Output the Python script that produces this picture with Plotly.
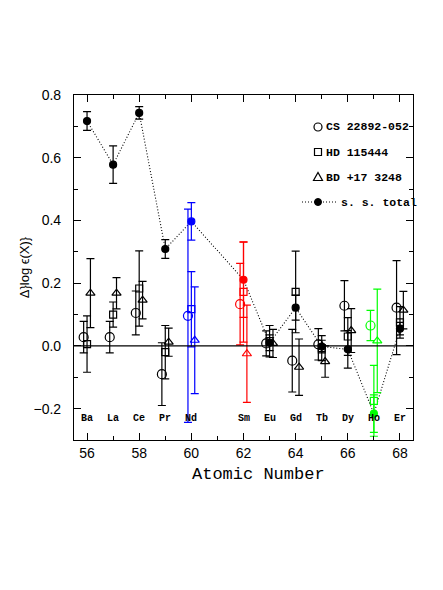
import plotly.graph_objects as go

# ---- data ----
Z = [56, 57, 58, 59, 60, 62, 63, 64, 65, 66, 67, 68]
elements = ["Ba", "La", "Ce", "Pr", "Nd", "Sm", "Eu", "Gd", "Tb", "Dy", "Ho", "Er"]
elem_colors = ["black", "black", "black", "black", "#0000ff", "#ff0000",
               "black", "black", "black", "black", "#00ff00", "black"]

cs_vals = [0.028, 0.028, 0.105, -0.090, 0.096, 0.133, 0.008, -0.047, 0.005, 0.128, 0.065, 0.122]
cs_err = [0.050, 0.050, 0.070, 0.100, 0.340, 0.130, 0.040, 0.100, 0.050, 0.080, 0.048, 0.150]
hd_vals = [0.006, 0.100, 0.183, -0.020, 0.117, 0.172, 0.015, 0.172, -0.007, 0.030, -0.175, 0.075]
hd_err = [0.090, 0.040, 0.120, 0.085, 0.120, 0.160, 0.050, 0.130, 0.040, 0.060, 0.113, 0.050]
bd_vals = [0.168, 0.168, 0.146, 0.012, 0.018, -0.025, 0.008, -0.068, -0.050, 0.049, 0.016, 0.114]
bd_err = [0.110, 0.050, 0.060, 0.045, 0.170, 0.155, 0.045, 0.090, 0.050, 0.070, 0.165, 0.060]
tot_vals = [0.717, 0.578, 0.743, 0.309, 0.397, 0.211, 0.010, 0.122, -0.002, -0.011, -0.216, 0.055]
tot_err = [0.030, 0.060, 0.020, 0.030, 0.060, 0.120, 0.025, 0.040, 0.020, 0.060, 0.060, 0.020]

x_ticks = [56, 58, 60, 62, 64, 66, 68]
legend_labels = ["CS 22892-052", "HD 115444", "BD +17 3248", "s. s. total"]

MONO = "Liberation Mono, Courier New, monospace"
SANS = "Liberation Sans, Arial, sans-serif"

fig = go.Figure()


def add_series(vals, errs, offset, symbol, size):
    for col in dict.fromkeys(elem_colors):
        idx = [i for i, c in enumerate(elem_colors) if c == col]
        fig.add_trace(go.Scatter(
            x=[Z[i] + offset for i in idx],
            y=[vals[i] for i in idx],
            mode="markers",
            marker=dict(symbol=symbol, size=size, color=col,
                        line=dict(color=col, width=1.2)),
            error_y=dict(type="data", array=[errs[i] for i in idx],
                         color=col, thickness=1.2, width=4),
            showlegend=False, hoverinfo="skip"))


# dotted line connecting totals
fig.add_trace(go.Scatter(x=Z, y=tot_vals, mode="lines",
                         line=dict(color="black", width=1.1, dash="1px,2px"),
                         showlegend=False, hoverinfo="skip"))

add_series(cs_vals, cs_err, -0.13, "circle-open", 9)
add_series(hd_vals, hd_err, 0.0, "square-open", 7)
add_series(bd_vals, bd_err, 0.13, "triangle-up-open", 8)
add_series(tot_vals, tot_err, 0.0, "circle", 7)

shapes = [dict(type="line", xref="paper", yref="y", x0=0, x1=1, y0=0, y1=0,
               line=dict(color="black", width=1.2))]

# custom legend (paper coords); page has an 8px body offset
OFF = 8
L, T, W, H = 74, 95, 339, 345


def px(xp):
    return (xp - L) / W


def py(yp):
    return (T + H - yp) / H


rows = [127, 152, 177, 202]
mx = 318
r = 4
shapes.append(dict(type="circle", xref="paper", yref="paper",
                   x0=px(mx - r), x1=px(mx + r), y0=py(rows[0] + r), y1=py(rows[0] - r),
                   line=dict(color="black", width=1.2)))
shapes.append(dict(type="rect", xref="paper", yref="paper",
                   x0=px(mx - 3.5), x1=px(mx + 3.5), y0=py(rows[1] + 3.5), y1=py(rows[1] - 3.5),
                   line=dict(color="black", width=1.2)))
shapes.append(dict(type="path", xref="paper", yref="paper",
                   path=f"M {px(mx-4.5)},{py(rows[2]+3.5)} L {px(mx+4.5)},{py(rows[2]+3.5)} "
                        f"L {px(mx)},{py(rows[2]-4.5)} Z",
                   line=dict(color="black", width=1.2)))
shapes.append(dict(type="line", xref="paper", yref="paper",
                   x0=px(302), x1=px(336), y0=py(rows[3]), y1=py(rows[3]),
                   line=dict(color="black", width=1.1, dash="1px,2px")))
shapes.append(dict(type="circle", xref="paper", yref="paper",
                   x0=px(mx - 3.5), x1=px(mx + 3.5), y0=py(rows[3] + 3.5), y1=py(rows[3] - 3.5),
                   fillcolor="black", line=dict(color="black", width=1)))

annotations = []
text_x = [324, 324, 324, 339]
for lab, ry, tx in zip(legend_labels, rows, text_x):
    annotations.append(dict(text=f"<b>{lab}</b>", xref="paper", yref="paper",
                            x=px(tx), y=py(ry), xanchor="left", yanchor="middle",
                            showarrow=False, font=dict(family=MONO, size=11.5, color="black")))

for z, el in zip(Z, elements):
    annotations.append(dict(text=f"<b>{el}</b>", x=z, y=-0.232, xref="x", yref="y",
                            showarrow=False, xanchor="center", yanchor="middle",
                            font=dict(family=MONO, size=10, color="black")))

# x-axis title (placed as annotation to match its off-centre position)
annotations.append(dict(text="Atomic Number", xref="paper", yref="paper",
                        x=px(258), y=py(474), xanchor="center", yanchor="middle",
                        showarrow=False, font=dict(family=MONO, size=17, color="black")))

fig.update_layout(
    width=443, height=590,
    margin=dict(l=L - OFF, r=443 - (L + W) + OFF, t=T - OFF, b=590 - (T + H) + OFF,
                autoexpand=False),
    paper_bgcolor="white", plot_bgcolor="white",
    shapes=shapes, annotations=annotations,
    showlegend=False,
    xaxis=dict(range=[55.5, 68.5], tickvals=x_ticks, ticks="inside", ticklen=7,
               tickwidth=1, tickcolor="black", automargin=False,
               minor=dict(dtick=1, ticks="inside", ticklen=4, tickcolor="black"),
               showline=True, linecolor="black", linewidth=1.2, mirror="allticks",
               showgrid=False, zeroline=False, ticklabelstandoff=0,
               tickfont=dict(family=SANS, size=14, color="black")),
    yaxis=dict(range=[-0.3, 0.8], dtick=0.2, tick0=0, tickformat=".1f",
               ticks="inside", ticklen=7, tickwidth=1, tickcolor="black", automargin=False,
               minor=dict(dtick=0.1, ticks="inside", ticklen=4, tickcolor="black"),
               showline=True, linecolor="black", linewidth=1.2, mirror="allticks",
               showgrid=False, zeroline=False, ticklabelstandoff=9,
               tickfont=dict(family=SANS, size=14, color="black"),
               title=dict(text="Δ}log ϵ(X)}", standoff=0,
                          font=dict(family=SANS, size=13, color="black"))),
)

fig.write_html("out.html")
